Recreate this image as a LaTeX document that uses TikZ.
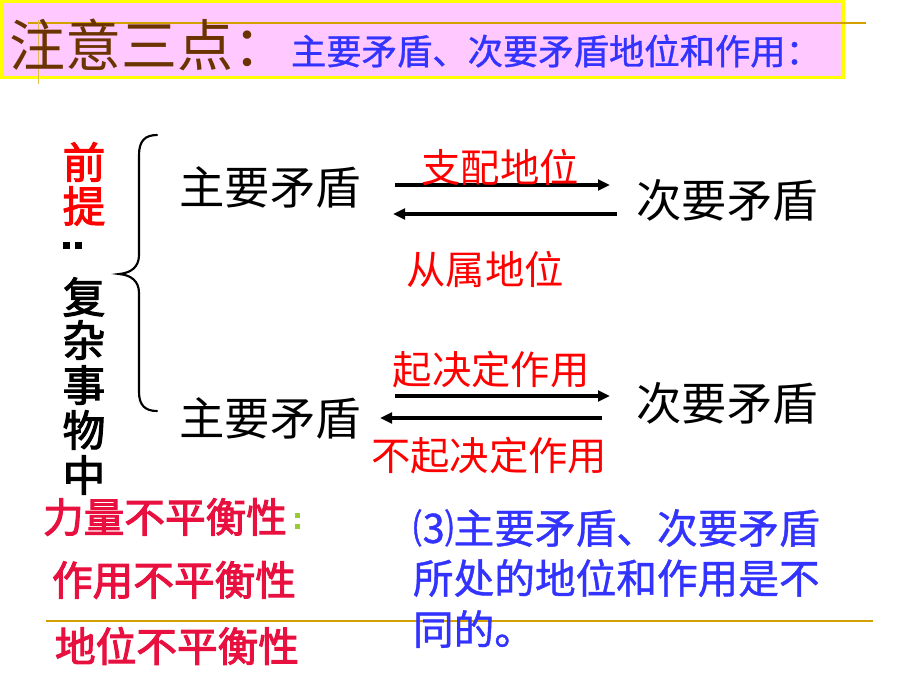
\documentclass[tikz,border=0pt]{standalone}
\usepackage{fontspec}
\newfontfamily\cjk{Noto Sans CJK SC}
\newfontfamily\cjkb{Noto Sans CJK SC}[FakeBold=2.5]
\newfontfamily\cjkm{Noto Sans CJK SC}[FakeBold=1]
\usetikzlibrary{arrows.meta}
\definecolor{pinkbg}{HTML}{FFC8FF}
\definecolor{boxyellow}{HTML}{FFFF00}
\definecolor{lineorange}{HTML}{D4A000}
\definecolor{titlebrown}{HTML}{6B3300}
\definecolor{tblue}{HTML}{3333FF}
\definecolor{tred}{HTML}{FF0000}
\definecolor{crimson}{HTML}{E8103F}
\definecolor{colgreen}{HTML}{99CC33}
\tikzset{
  txt/.style={inner sep=0pt, outer sep=0pt},
  mainlbl/.style={txt, font=\cjk\fontsize{34}{34}\selectfont, text=black},
  redlbl/.style={txt, font=\cjk\fontsize{29.5}{29.5}\selectfont, text=tred},
  colchar/.style={txt, font=\cjkb\fontsize{32}{32}\selectfont, text=black},
  redchar/.style={txt, font=\cjkb\fontsize{32}{32}\selectfont, text=tred},
  bottomlbl/.style={txt, font=\cjkb\fontsize{30.5}{30.5}\selectfont, text=crimson, anchor=west},
  bluelbl/.style={txt, font=\cjkm\fontsize{30.5}{30.5}\selectfont, text=tblue, anchor=west},
  arr/.style={line width=2.4pt, -{Triangle[length=9pt,width=8pt]}},
  thinline/.style={lineorange, line width=1.2pt},
  brace/.style={line width=1.6pt, line cap=round}
}
\begin{document}
\begin{tikzpicture}[x=0.75pt,y=-0.75pt]
\useasboundingbox (0,0) rectangle (920,690);
% title box
\fill[pinkbg] (0,0) rectangle (845,79);
\draw[boxyellow, line width=2.6pt] (1.7,1.7) rectangle (843.3,77.3);
\draw[thinline] (28,23) -- (866,23);
\draw[lineorange!70, line width=0.6pt] (38,20) -- (38,84);
\node[txt, anchor=west, font=\cjk\fontsize{42}{42}\selectfont, text=titlebrown] (title) at (9,45) {注意三点：};
\node[txt, anchor=west, font=\cjkm\fontsize{26.5}{26.5}\selectfont, text=tblue] (subtitle) at (291,51) {主要矛盾、次要矛盾地位和作用：};
% left column
\node[redchar] (c1) at (84,162) {前};
\node[redchar] (c2) at (84,206) {提};
\fill (63,242) rectangle (70,249);
\fill (75,242) rectangle (82,249);
\node[colchar] (c3) at (84,297) {复};
\node[colchar] (c4) at (84,340) {杂};
\node[colchar] (c5) at (84,385) {事};
\node[colchar] (c6) at (84,430) {物};
\node[colchar] (c7) at (84,475) {中};
% brace
\draw[brace] (157,135) .. controls (145,135) and (139,141) .. (139,155) -- (139,255)
  .. controls (139,267) and (131,273) .. (119,274)
  .. controls (131,275) and (139,281) .. (139,293) -- (139,392)
  .. controls (139,405) and (145,411) .. (157,411);
% main labels
\node[mainlbl] (m1) at (270,187) {主要矛盾};
\node[mainlbl] (s1b) at (727,200) {次要矛盾};
\node[mainlbl] (m2) at (270,418) {主要矛盾};
\node[mainlbl] (s2b) at (727,403) {次要矛盾};
% arrows row 1
\coordinate (a1s) at (395,185); \coordinate (a1e) at (610,185);
\coordinate (b1s) at (617,214); \coordinate (b1e) at (393,214);
\draw[arr] (a1s) -- (a1e);
\draw[arr] (b1s) -- (b1e);
\node[redlbl] (l1) at (500,167) {支配地位};
\node[redlbl] (l2) at (485,269) {从属地位};
% arrows row 2
\coordinate (a2s) at (395,396); \coordinate (a2e) at (610,396);
\coordinate (b2s) at (602,418); \coordinate (b2e) at (380,418);
\draw[arr] (a2s) -- (a2e);
\draw[arr] (b2s) -- (b2e);
\node[redlbl] (l3) at (491,370) {起决定作用};
\node[redlbl] (l4) at (489,456) {不起决定作用};
% bottom left
\draw[thinline] (46,621) -- (873,621);
\node[bottomlbl] (p1) at (43,517) {力量不平衡性};
\fill[colgreen] (295,513) rectangle (300,518);
\fill[colgreen] (295,524) rectangle (300,529);
\node[bottomlbl] (p2) at (52,580) {作用不平衡性};
\node[bottomlbl] (p3) at (55,646) {地位不平衡性};
% blue text
\node[bluelbl] (q1) at (413,528) {⑶主要矛盾、次要矛盾};
\node[bluelbl] (q2) at (413,578) {所处的地位和作用是不};
\node[bluelbl] (q3) at (413,629) {同的。};
\end{tikzpicture}
\end{document}
